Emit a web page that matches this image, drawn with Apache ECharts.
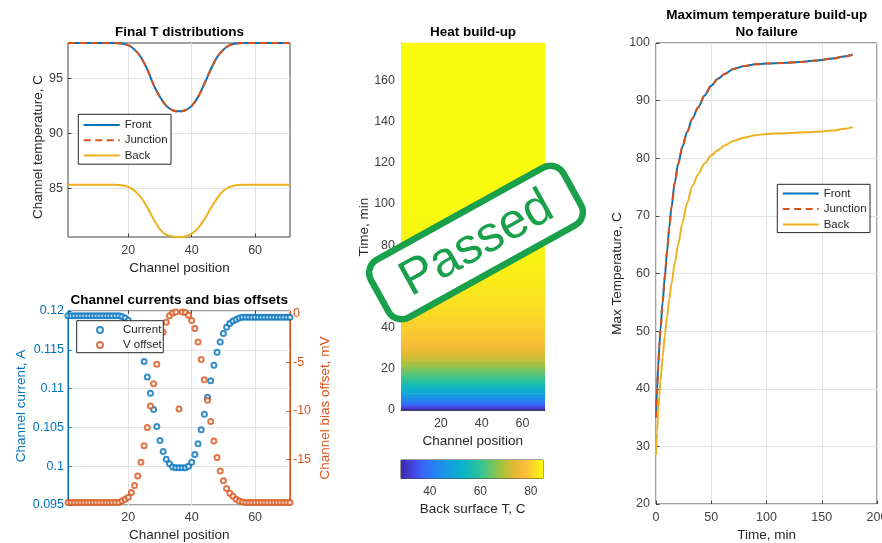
<!DOCTYPE html>
<html><head><meta charset="utf-8">
<script src="https://cdn.jsdelivr.net/npm/echarts@6/dist/echarts.min.js"></script>
<style>html,body{margin:0;padding:0;background:#fff}#c{width:882px;height:543px}</style>
</head><body><div id="c"></div>
<script>
// ---------- DATA ----------
// Final T distributions (channel position vs temperature, C)
const finalChannels = [1,10,16,18,20,22,24,26,28,30,32,34,36,38,40,42,44,46,48,50,52,54,56,60,71];
const finalFront    = [98.2,98.2,98.2,98.15,98.0,97.6,96.9,95.8,94.4,93.3,92.5,92.1,92.0,92.1,92.5,93.3,94.5,95.8,96.9,97.6,98.0,98.15,98.2,98.2,98.2];
const finalJunction = [98.2,98.2,98.2,98.15,98.0,97.6,96.9,95.8,94.4,93.3,92.5,92.1,92.0,92.1,92.5,93.3,94.5,95.8,96.9,97.6,98.0,98.15,98.2,98.2,98.2];
const finalBack     = [85.35,85.35,85.35,85.3,85.15,84.8,84.2,83.3,82.2,81.3,80.8,80.65,80.6,80.65,80.9,81.4,82.2,83.2,84.1,84.8,85.15,85.3,85.35,85.35,85.35];

// Channel currents (A) and bias offsets (mV), channels 1..71
const channels = [1,2,3,4,5,6,7,8,9,10,11,12,13,14,15,16,17,18,19,20,21,22,23,24,25,26,27,28,29,30,31,32,33,34,35,36,37,38,39,40,41,42,43,44,45,46,47,48,49,50,51,52,53,54,55,56,57,58,59,60,61,62,63,64,65,66,67,68,69,70,71];
const current = [
0.1194,0.1194,0.1194,0.1194,0.1194,0.1194,0.1194,0.1194,0.1194,0.1194,
0.1194,0.1194,0.1194,0.1194,0.1194,0.1194,0.1194,0.1193,0.1191,0.1188,
0.1183,0.1175,0.1164,0.1150,0.1135,0.1115,0.1094,0.1073,0.1051,0.1033,
0.1019,0.1009,0.1003,0.0999,0.0998,0.0998,0.0998,0.0998,0.1000,0.1005,
0.1015,0.1029,0.1047,0.1067,0.1089,0.1110,0.1130,0.1147,0.1160,0.1171,
0.1179,0.1184,0.1187,0.1189,0.1191,0.1192,0.1192,0.1192,0.1192,0.1192,
0.1192,0.1192,0.1192,0.1192,0.1192,0.1192,0.1192,0.1192,0.1192,0.1192,0.1192];
const vOffset = [
-19.45,-19.45,-19.45,-19.45,-19.45,-19.45,-19.45,-19.45,-19.45,-19.45,
-19.45,-19.45,-19.45,-19.45,-19.45,-19.45,-19.45,-19.3,-19.1,-18.9,
-18.4,-17.7,-16.7,-15.3,-13.6,-11.7,-9.5,-7.2,-5.2,-3.4,
-1.9,-0.87,-0.2,0.1,0.2,-9.8,0.2,0.15,-0.15,-0.67,
-1.5,-2.9,-4.7,-6.8,-8.9,-11.1,-13.1,-14.8,-16.2,-17.2,
-18.0,-18.5,-18.8,-19.1,-19.3,-19.4,-19.45,-19.45,-19.45,-19.45,
-19.45,-19.45,-19.45,-19.45,-19.45,-19.45,-19.45,-19.45,-19.45,-19.45,-19.45];

// Maximum temperature build-up (time, min)
const timeMin     = [0,1,2,3,4,6,8,10,12,14,17,20,24,28,33,38,44,50,56,62,70,80,90,100,115,130,145,160,170,178];
const maxFront    = [35.0,40.0,44.0,47.3,50.2,55.0,59.5,63.8,68.0,71.5,75.8,79.0,82.0,84.5,86.9,88.8,90.9,92.6,93.8,94.6,95.5,96.0,96.3,96.45,96.55,96.7,96.95,97.3,97.65,98.0];
const maxJunction = [35.0,40.0,44.0,47.3,50.2,55.0,59.5,63.8,68.0,71.5,75.8,79.0,82.0,84.5,86.9,88.8,90.9,92.6,93.8,94.6,95.5,96.0,96.3,96.45,96.55,96.7,96.95,97.3,97.65,98.0];
const maxBack     = [28.5,32.5,36.0,38.8,41.3,45.5,49.3,52.6,55.5,58.2,61.8,65.0,68.8,72.2,75.2,77.2,79.1,80.5,81.4,82.2,83.0,83.6,84.0,84.2,84.35,84.45,84.6,84.8,85.1,85.4];

// Heat build-up map: back surface T (C) by time row
const heatTime  = [0,1,2,3,4,6,8,10,12,14,17,20,24,28,32,36,40,45,50,60,70,80,100,120,140,160,178];
const heatBackT = [28.6,32.0,35.5,38.5,41.0,45.5,49.5,53.0,56.0,59.0,62.5,66.0,70.5,74.5,77.5,79.0,80.0,81.0,81.8,83.0,83.8,84.2,84.6,84.8,85.0,85.2,85.4];
const heatChannelRange = [0.5, 71];
const colorRange = [28.6, 84.8];

// Tick labels
const chTicks = [20,40,60];
const finalTTicks = [85,90,95];
const vOffTicks = [-15,-10,-5,0];
const cbarTicks = [40,60,80];

// ---------- STYLE ----------
const FONT = "'Liberation Sans', Arial, Helvetica, sans-serif";
const BLUE = '#0072BD', ORANGE = '#D95319', YELLOW = '#EDB120';
const AX = '#404040', GRIDC = '#e3e3e3', TXT = '#262626';
const parulaStops = [
  [0.00,[62,38,168]],[0.08,[71,67,224]],[0.16,[55,105,250]],[0.24,[35,130,242]],
  [0.32,[25,152,226]],[0.40,[10,172,210]],[0.48,[20,185,185]],[0.56,[50,195,150]],
  [0.64,[110,198,100]],[0.72,[175,193,55]],[0.80,[225,185,50]],[0.86,[250,186,60]],
  [0.92,[250,207,45]],[1.00,[249,251,14]]];
function parula(v){
  let t=(v-colorRange[0])/(colorRange[1]-colorRange[0]);
  t=Math.max(0,Math.min(1,t));
  for(let i=1;i<parulaStops.length;i++){
    const a=parulaStops[i-1],b=parulaStops[i];
    if(t<=b[0]){const f=(t-a[0])/(b[0]-a[0]);
      const c=a[1].map((x,k)=>Math.round(x+(b[1][k]-x)*f));
      return 'rgb('+c.join(',')+')';}
  }
  return 'rgb(249,251,14)';
}
const zip=(a,b)=>a.map((x,i)=>[x,b[i]]);
const tickLbl = (m, extra) => Object.assign({color:AX,fontSize:12.5,fontFamily:FONT,margin:m}, extra||{});
const tickIn = (extra) => Object.assign({show:true,inside:true,length:3.5,lineStyle:{color:AX}}, extra||{});
const split = {show:true,lineStyle:{color:GRIDC,width:1}};

const heatRows=[];
for(let i=0;i<heatTime.length-1;i++){
  heatRows.push([heatChannelRange[0],heatChannelRange[1],heatTime[i],heatTime[i+1],heatBackT[i],heatBackT[i+1]]);
}

const chart = echarts.init(document.getElementById('c'), null, {renderer:'canvas'});
const gtext=(x,y,text,o)=>Object.assign({type:'text',x:x,y:y,z:50,style:Object.assign({text:text,align:'center',verticalAlign:'middle',fontSize:13.5,fontFamily:FONT,fill:TXT},(o&&o.style)||{})},o&&o.rotation?{rotation:o.rotation}:{});
const bold={style:{fontWeight:'bold',fill:'#000',fontSize:13.5}};
const rot=Math.PI/2;
const lineLegend = (left, top, pad, gap) => ({orient:'vertical',left:left,top:top,data:['Front','Junction','Back'],selectedMode:false,
  itemWidth:36,itemHeight:13,itemGap:gap,padding:pad,backgroundColor:'#fff',borderColor:TXT,borderWidth:1,borderRadius:0,
  itemStyle:{color:'rgba(0,0,0,0)',borderWidth:0,opacity:0},
  textStyle:{fontSize:11.5,fontFamily:FONT,color:TXT,lineHeight:13}});
const G = (o) => Object.assign({containLabel:false,outerBoundsMode:'none'}, o);

chart.setOption({
  animation:false,
  backgroundColor:'#fff',
  grid:[
    G({left:68,top:43,width:222,height:194,show:true,borderColor:AX,borderWidth:1,backgroundColor:'#fff'}),
    G({left:68,top:311,width:222,height:194,show:true,borderColor:AX,borderWidth:1,backgroundColor:'#fff'}),
    G({left:401,top:43,width:144,height:367}),
    G({left:401,top:460,width:142,height:18.5,show:true,borderColor:AX,borderWidth:1}),
    G({left:656,top:43,width:221,height:461,show:true,borderColor:AX,borderWidth:1,backgroundColor:'#fff'})
  ],
  xAxis:[
    {gridIndex:0,type:'value',min:1,max:71,axisLine:{show:false},axisTick:tickIn({customValues:chTicks}),axisLabel:tickLbl(7,{customValues:chTicks}),splitLine:split},
    {gridIndex:1,type:'value',min:1,max:71,axisLine:{show:false},axisTick:tickIn({customValues:chTicks}),axisLabel:tickLbl(6.5,{customValues:chTicks}),splitLine:split},
    {gridIndex:2,type:'value',min:heatChannelRange[0],max:heatChannelRange[1],axisLine:{show:true,lineStyle:{color:AX}},axisTick:{show:false,customValues:chTicks},axisLabel:tickLbl(7,{customValues:chTicks}),splitLine:{show:false}},
    {gridIndex:3,type:'value',min:colorRange[0],max:colorRange[1],axisLine:{show:false},axisTick:tickIn({customValues:cbarTicks,length:3}),axisLabel:tickLbl(7,{customValues:cbarTicks,fontSize:12}),splitLine:{show:false}},
    {gridIndex:4,type:'value',min:0,max:200,interval:50,axisLine:{show:false},axisTick:tickIn(),axisLabel:tickLbl(7.5),splitLine:split}
  ],
  yAxis:[
    {gridIndex:0,type:'value',min:80.6,max:98.2,axisLine:{show:false},axisTick:tickIn({customValues:finalTTicks}),axisLabel:tickLbl(5,{customValues:finalTTicks}),splitLine:split},
    {gridIndex:1,type:'value',min:0.095,max:0.12,interval:0.005,position:'left',axisLine:{show:true,lineStyle:{color:BLUE}},axisTick:tickIn({lineStyle:{color:BLUE}}),axisLabel:tickLbl(4,{color:BLUE}),splitLine:split},
    {gridIndex:1,type:'value',min:-19.7,max:0.3,position:'right',axisLine:{show:true,lineStyle:{color:ORANGE}},axisTick:tickIn({customValues:vOffTicks,lineStyle:{color:ORANGE}}),axisLabel:tickLbl(3,{color:ORANGE,customValues:vOffTicks}),splitLine:{show:false}},
    {gridIndex:2,type:'value',min:0,max:178,interval:20,axisLine:{show:true,lineStyle:{color:AX}},axisTick:{show:false},axisLabel:tickLbl(6,{showMaxLabel:false}),splitLine:{show:false}},
    {gridIndex:3,type:'value',min:0,max:1,show:false},
    {gridIndex:4,type:'value',min:20,max:100,interval:10,axisLine:{show:false},axisTick:tickIn(),axisLabel:tickLbl(6),splitLine:split}
  ],
  legend:[
    lineLegend(78.3,114.3,[4.2,3.5,2.1,4.4],2.3),
    {orient:'vertical',left:76.7,top:320.7,data:['Current','V offset'],selectedMode:false,
     itemWidth:36,itemHeight:6,itemGap:2,padding:[2.8,1.5,1.2,19.3],backgroundColor:'#fff',borderColor:TXT,borderWidth:1,borderRadius:0,
     itemStyle:{borderWidth:1},
     textStyle:{fontSize:11.5,fontFamily:FONT,color:TXT,lineHeight:13}},
    lineLegend(777.3,184.3,[2.8,3.5,1.5,4.4],2.5)
  ],
  series:[
    {name:'Front',type:'line',xAxisIndex:0,yAxisIndex:0,data:zip(finalChannels,finalFront),symbol:'none',smooth:0.3,clip:false,lineStyle:{color:BLUE,width:2},itemStyle:{color:BLUE}},
    {name:'Junction',type:'line',xAxisIndex:0,yAxisIndex:0,data:zip(finalChannels,finalJunction),symbol:'none',smooth:0.3,clip:false,lineStyle:{color:ORANGE,width:2,type:[7,4.5]},itemStyle:{color:ORANGE}},
    {name:'Back',type:'line',xAxisIndex:0,yAxisIndex:0,data:zip(finalChannels,finalBack),symbol:'none',smooth:0.3,clip:false,lineStyle:{color:YELLOW,width:2},itemStyle:{color:YELLOW}},
    {name:'Current',type:'scatter',xAxisIndex:1,yAxisIndex:1,data:zip(channels,current),symbol:'emptyCircle',symbolSize:5,clip:false,itemStyle:{color:BLUE,borderWidth:1}},
    {name:'V offset',type:'scatter',xAxisIndex:1,yAxisIndex:2,data:zip(channels,vOffset),symbol:'emptyCircle',symbolSize:5,clip:false,itemStyle:{color:ORANGE,borderWidth:1}},
    {name:'heat',type:'custom',xAxisIndex:2,yAxisIndex:3,data:heatRows,encode:{x:[0,1],y:[2,3]},silent:true,z:1,
     renderItem:function(params,api){
       const p0=api.coord([api.value(0),api.value(3)]);
       const p1=api.coord([api.value(1),api.value(2)]);
       return {type:'rect',shape:{x:p0[0],y:p0[1]-0.3,width:p1[0]-p0[0],height:p1[1]-p0[1]+0.6},
         style:{fill:new echarts.graphic.LinearGradient(0,0,0,1,[{offset:0,color:parula(api.value(5))},{offset:1,color:parula(api.value(4))}])}};
     }},
    {name:'cbar',type:'custom',xAxisIndex:3,yAxisIndex:4,data:[[colorRange[0],colorRange[1],0,1]],encode:{x:[0,1],y:[2,3]},silent:true,z:1,
     renderItem:function(params,api){
       const p0=api.coord([api.value(0),api.value(3)]);
       const p1=api.coord([api.value(1),api.value(2)]);
       return {type:'rect',shape:{x:p0[0],y:p0[1],width:p1[0]-p0[0],height:p1[1]-p0[1]},
         style:{fill:new echarts.graphic.LinearGradient(0,0,1,0,parulaStops.map(s=>({offset:s[0],color:'rgb('+s[1].join(',')+')'})))}};
     }},
    {name:'Front',type:'line',xAxisIndex:4,yAxisIndex:5,data:zip(timeMin,maxFront),symbol:'none',smooth:0.3,smoothMonotone:'x',lineStyle:{color:BLUE,width:2},itemStyle:{color:BLUE}},
    {name:'Junction',type:'line',xAxisIndex:4,yAxisIndex:5,data:zip(timeMin,maxJunction),symbol:'none',smooth:0.3,smoothMonotone:'x',lineStyle:{color:ORANGE,width:2,type:[7,4.5]},itemStyle:{color:ORANGE}},
    {name:'Back',type:'line',xAxisIndex:4,yAxisIndex:5,data:zip(timeMin,maxBack),symbol:'none',smooth:0.3,smoothMonotone:'x',lineStyle:{color:YELLOW,width:2},itemStyle:{color:YELLOW}}
  ],
  graphic:[
    gtext(179.5,32.3,'Final T distributions',bold),
    gtext(179.3,300.7,'Channel currents and bias offsets',bold),
    gtext(473,32.3,'Heat build-up',bold),
    gtext(766.7,15,'Maximum temperature build-up',bold),
    gtext(766.7,32.3,'No failure',bold),
    gtext(179.5,268.3,'Channel position'),
    gtext(38,147,'Channel temperature, C',{rotation:rot}),
    gtext(179.3,535,'Channel position'),
    gtext(21,406,'Channel current, A',{rotation:rot,style:{fill:BLUE}}),
    gtext(325,408,'Channel bias offset, mV',{rotation:rot,style:{fill:ORANGE}}),
    gtext(364,227,'Time, min',{rotation:rot}),
    gtext(472.7,441,'Channel position'),
    gtext(472.7,509.3,'Back surface T, C'),
    gtext(617,273.5,'Max Temperature, C',{rotation:rot}),
    gtext(766.7,535,'Time, min'),
    {type:'group',x:476,y:242.5,rotation:29*Math.PI/180,z:100,zlevel:1,children:[
      {type:'rect',z:100,zlevel:1,shape:{x:-110,y:-33,width:220,height:66,r:15},style:{fill:'#fff',stroke:'#19a04b',lineWidth:6.5}},
      {type:'text',z:101,zlevel:1,x:0,y:2,style:{text:'Passed',align:'center',verticalAlign:'middle',fontSize:50,fontFamily:FONT,fill:'#19a04b'}}
    ]}
  ]
});
</script></body></html>
